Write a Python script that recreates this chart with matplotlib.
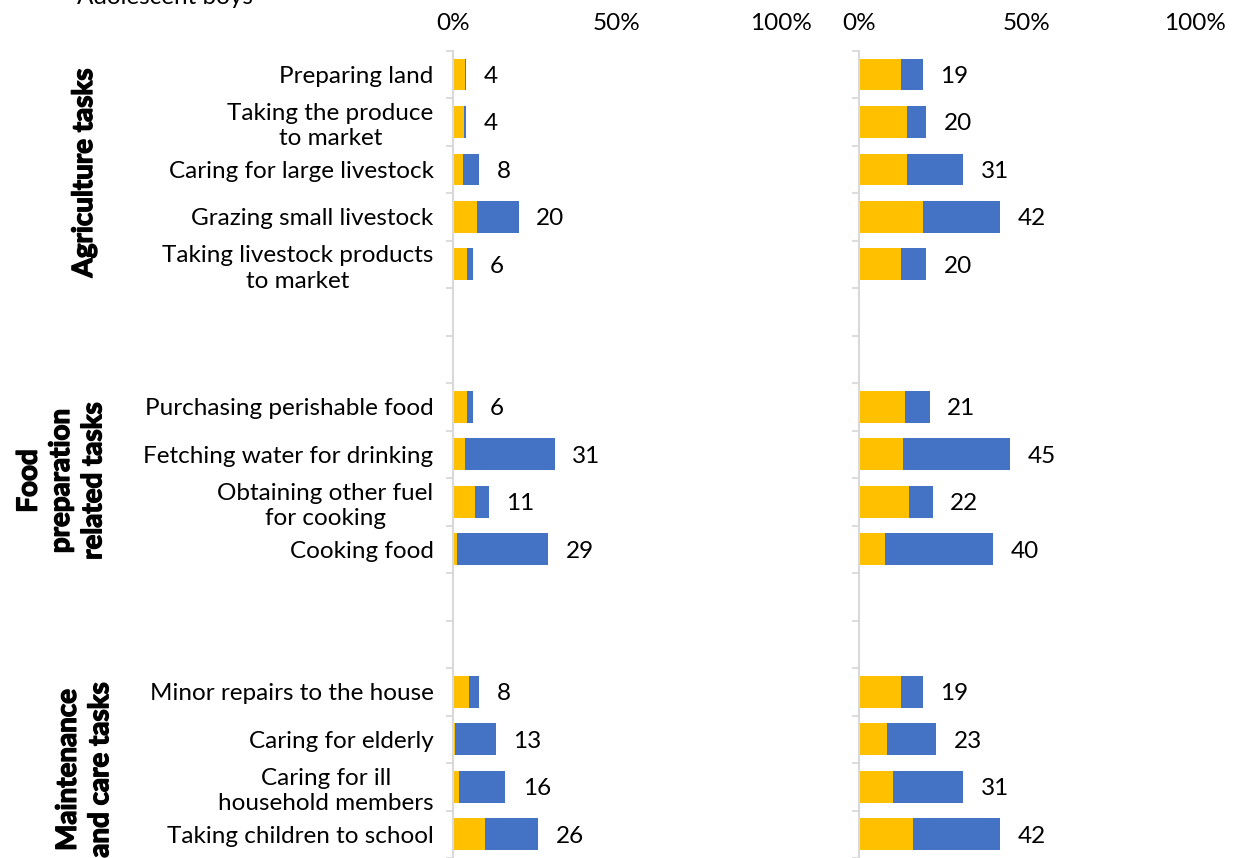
import matplotlib
matplotlib.use("Agg")
import matplotlib.pyplot as plt
import matplotlib.patheffects as pe

plt.rcParams['font.family'] = ['Lato', 'DejaVu Sans']

agri_tasks = ["Preparing land", "Taking the produce\nto market", "Caring for large livestock",
              "Grazing small livestock", "Taking livestock products\nto market"]
food_tasks = ["Purchasing perishable food", "Fetching water for drinking",
              "Obtaining other fuel\nfor cooking", "Cooking food"]
care_tasks = ["Minor repairs to the house", "Caring for elderly",
              "Caring for ill\nhousehold members", "Taking children to school"]

group_names = ["Agriculture tasks", "Food\npreparation\nrelated tasks", "Maintenance\nand care tasks"]

# left panel, % of respondents
left_yellow = [3.6, 3.3, 3.1, 7.4, 4.4,
               4.4, 3.7, 6.8, 1.3,
               5.0, 0.7, 1.9, 9.8]
left_blue = [0.4, 0.7, 4.9, 12.6, 1.6,
             1.6, 27.3, 4.2, 27.7,
             3.0, 12.3, 14.1, 16.2]

# right panel
right_yellow = [12.5, 14.3, 14.3, 19.0, 12.5,
                13.7, 13.1, 14.9, 7.7,
                12.5, 8.3, 10.1, 16.1]
right_blue = [6.5, 5.7, 16.7, 23.0, 7.5,
              7.3, 31.9, 7.1, 32.3,
              6.5, 14.7, 20.9, 25.9]

YELLOW = "#FFC000"
BLUE = "#4472C4"
GRID = "#D9D9D9"
FS = 17.5

# row positions: each group followed by two empty rows
labels, centers = [], []
pos = 0
for i, grp in enumerate([agri_tasks, food_tasks, care_tasks]):
    for t in grp:
        labels.append(t)
        centers.append(pos + 0.5)
        pos += 1
    if i < 2:
        pos += 2
n_rows = pos

W, H = 1253, 858
fig = plt.figure(figsize=(W / 100, H / 100), dpi=100)
top = 807.3 / H
ax_l = fig.add_axes([453 / W, 0, 328 / W, top])
ax_r = fig.add_axes([859 / W, 0, 336 / W, top])


def draw_panel(ax, yel, blu, show_labels):
    ax.barh(centers, yel, height=0.67, color=YELLOW, linewidth=0)
    ax.barh(centers, blu, left=yel, height=0.67, color=BLUE, linewidth=0)
    for y, a, b in zip(centers, yel, blu):
        tot = a + b
        ax.annotate(f"{tot:.0f}", xy=(tot, y), xytext=(12.5, 0), textcoords='offset points',
                    va='center_baseline', ha='left', fontsize=FS, color='black')
    ax.set_xlim(0, 100)
    ax.set_ylim(n_rows, 0)
    ax.set_xticks([0, 50, 100])
    ax.set_xticklabels(["0%", "50%", "100%"])
    ax.tick_params(axis='x', top=True, labeltop=True, bottom=False, labelbottom=False,
                   length=0, pad=12, labelsize=FS)
    ax.set_yticks(range(n_rows + 1))
    ax.set_yticklabels([])
    ax.tick_params(axis='y', which='major', length=5, width=1.3, color=GRID, direction='out')
    ax.set_yticks(centers, minor=True)
    if show_labels:
        ax.set_yticklabels(labels, minor=True)
        for lbl in ax.get_yticklabels(minor=True):
            lbl.set_multialignment('center')
            lbl.set_linespacing(1.25)
    ax.tick_params(axis='y', which='minor', length=0, pad=14, labelsize=FS)
    for s in ['top', 'right', 'bottom']:
        ax.spines[s].set_visible(False)
    ax.spines['left'].set_color(GRID)
    ax.spines['left'].set_linewidth(1.5)


draw_panel(ax_l, left_yellow, left_blue, True)
draw_panel(ax_r, right_yellow, right_blue, False)

# group headings, thickened with a stroke
head = dict(rotation=90, ha='center', va='center', fontsize=20, fontweight='bold',
            multialignment='center', linespacing=1.3,
            path_effects=[pe.withStroke(linewidth=1.0, foreground='black')])
fig.text(84 / W, 1 - 173 / H, group_names[0], **head)
fig.text(61 / W, 1 - 481 / H, group_names[1], **head)
fig.text(84 / W, 1 - 770 / H, group_names[2], **head)

fig.text(77 / W, 1 - 4 / H, "Adolescent boys", ha='left', va='baseline', fontsize=FS)

fig.savefig("out.png", dpi=100)
